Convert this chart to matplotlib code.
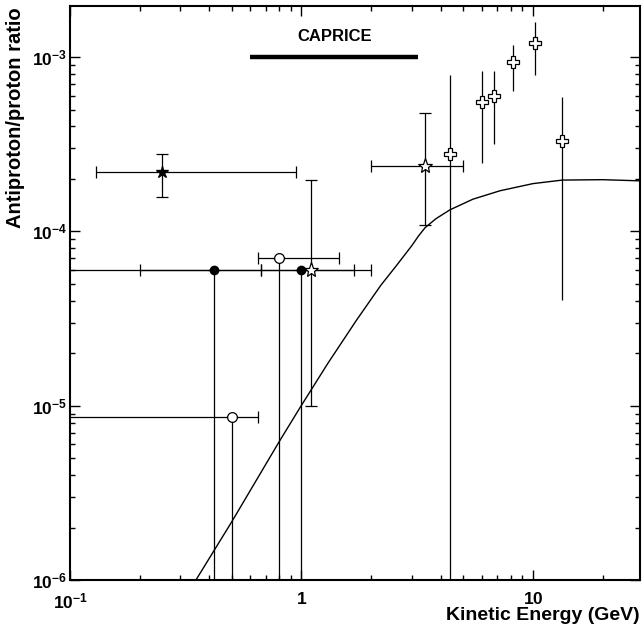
import numpy as np
import matplotlib
matplotlib.use("Agg")
import matplotlib.pyplot as plt
from matplotlib.ticker import LogLocator, FixedFormatter, FixedLocator, NullFormatter

# ----------------------------------------------------------------------
# data (kinetic energy in GeV, pbar/p ratio)
# ----------------------------------------------------------------------
# filled star
fstar_E = [0.25]
fstar_R = [2.2e-4]
fstar_Elo = [0.13]
fstar_Ehi = [0.95]
fstar_Rlo = [1.58e-4]
fstar_Rhi = [2.77e-4]

# filled circles (bars run down off the axis)
fcirc_E = [0.42, 1.0]
fcirc_R = [6.0e-5, 6.0e-5]
fcirc_Elo = [0.2, 0.67]
fcirc_Ehi = [0.67, 1.69]
fcirc_Rlo = [1e-7, 1e-7]
fcirc_Rhi = [6.0e-5, 6.0e-5]

# open circles
ocirc_E = [0.5, 0.8]
ocirc_R = [8.6e-6, 7.0e-5]
ocirc_Elo = [0.05, 0.647]
ocirc_Ehi = [0.647, 1.456]
ocirc_Rlo = [1e-7, 1e-7]
ocirc_Rhi = [8.6e-6, 7.0e-5]

# open stars
ostar_E = [1.1, 3.4]
ostar_R = [6.0e-5, 2.37e-4]
ostar_Elo = [0.05, 2.0]
ostar_Ehi = [2.0, 5.0]
ostar_Rlo = [1.0e-5, 1.09e-4]
ostar_Rhi = [1.97e-4, 4.77e-4]

# open crosses
cross_E = [4.4, 6.0, 6.8, 8.2, 10.2, 13.4]
cross_R = [2.77e-4, 5.55e-4, 6.0e-4, 9.33e-4, 1.21e-3, 3.31e-4]
cross_Rlo = [1e-7, 2.48e-4, 3.17e-4, 6.42e-4, 7.86e-4, 4.04e-5]
cross_Rhi = [7.86e-4, 8.36e-4, 8.36e-4, 1.17e-3, 1.58e-3, 5.88e-4]

# model curve
curve_E = [0.3, 0.35, 0.5, 0.8, 0.985, 1.3, 1.73, 2.2, 2.58, 3.0, 3.2,
           3.42, 3.8, 4.38, 5.5, 7.2, 10.0, 13.4, 20.0, 29.0]
curve_R = [7.1e-7, 1.0e-6, 2.16e-6, 6.2e-6, 9.74e-6, 1.75e-5, 3.1e-5,
           4.9e-5, 6.4e-5, 8.3e-5, 9.4e-5, 1.05e-4, 1.18e-4, 1.33e-4,
           1.53e-4, 1.71e-4, 1.88e-4, 1.97e-4, 1.98e-4, 1.95e-4]

# CAPRICE energy range
caprice_E = [0.6, 3.2]
caprice_R = [1.0e-3, 1.0e-3]

xticks = [0.1, 1, 10]
xticklabels = [r"$10^{-1}$", r"$1$", r"$10$"]
yticks = [1e-6, 1e-5, 1e-4, 1e-3]
yticklabels = [r"$10^{-6}$", r"$10^{-5}$", r"$10^{-4}$", r"$10^{-3}$"]

# ----------------------------------------------------------------------
# style
# ----------------------------------------------------------------------
plt.rcParams["font.family"] = ["Liberation Sans", "DejaVu Sans"]
plt.rcParams["font.weight"] = "bold"
plt.rcParams["mathtext.fontset"] = "custom"
plt.rcParams["mathtext.rm"] = "Liberation Sans:bold"
plt.rcParams["mathtext.it"] = "Liberation Sans:bold"
plt.rcParams["mathtext.bf"] = "Liberation Sans:bold"
plt.rcParams["mathtext.default"] = "rm"

fig = plt.figure(figsize=(6.42, 6.28), dpi=100)
ax = fig.add_axes([70 / 642, 48 / 628, 570 / 642, 574 / 628])
ax.set_xscale("log")
ax.set_yscale("log")
ax.set_xlim(0.1, 29.0)
ax.set_ylim(1e-6, 1.964e-3)


def asym(v, lo, hi):
    v = np.asarray(v)
    return [v - np.asarray(lo), np.asarray(hi) - v]


eb = dict(color="black", lw=0.9, capthick=0.9, ls="none")

# curve
ax.plot(curve_E, curve_R, color="black", lw=1.0)

# filled star
ax.errorbar(fstar_E, fstar_R, xerr=asym(fstar_E, fstar_Elo, fstar_Ehi),
            yerr=asym(fstar_R, fstar_Rlo, fstar_Rhi), capsize=4,
            marker="*", ms=9, mfc="black", mec="black", **eb)

# open stars
ax.errorbar(ostar_E, ostar_R, xerr=asym(ostar_E, ostar_Elo, ostar_Ehi),
            yerr=asym(ostar_R, ostar_Rlo, ostar_Rhi), capsize=4,
            marker="*", ms=11, mfc="white", mec="black", mew=0.9, **eb)

# filled circles
ax.errorbar(fcirc_E, fcirc_R, xerr=asym(fcirc_E, fcirc_Elo, fcirc_Ehi),
            yerr=asym(fcirc_R, fcirc_Rlo, fcirc_Rhi), capsize=4,
            marker="o", ms=6, mfc="black", mec="black", **eb)

# open circles
ax.errorbar(ocirc_E, ocirc_R, xerr=asym(ocirc_E, ocirc_Elo, ocirc_Ehi),
            yerr=asym(ocirc_R, ocirc_Rlo, ocirc_Rhi), capsize=4,
            marker="o", ms=7, mfc="white", mec="black", mew=0.9, **eb)

# open crosses
ax.errorbar(cross_E, cross_R, yerr=asym(cross_R, cross_Rlo, cross_Rhi),
            capsize=0, marker="P", ms=9, mfc="white", mec="black", mew=0.9,
            **eb)

# CAPRICE bar
ax.plot(caprice_E, caprice_R, color="black", lw=3.2, solid_capstyle="butt")
ax.text(np.sqrt(caprice_E[0] * caprice_E[1]), 1.19e-3, "CAPRICE",
        ha="center", va="bottom", fontsize=12, fontweight="bold")

# ticks
ax.xaxis.set_major_locator(FixedLocator(xticks))
ax.xaxis.set_major_formatter(FixedFormatter(xticklabels))
ax.yaxis.set_major_locator(FixedLocator(yticks))
ax.yaxis.set_major_formatter(FixedFormatter(yticklabels))
ax.xaxis.set_minor_locator(LogLocator(base=10, subs=np.arange(2, 10)))
ax.yaxis.set_minor_locator(LogLocator(base=10, subs=np.arange(2, 10)))
ax.xaxis.set_minor_formatter(NullFormatter())
ax.yaxis.set_minor_formatter(NullFormatter())
ax.tick_params(which="both", direction="in", top=True, right=True,
               width=1.0, labelsize=12.5)
ax.tick_params(which="major", length=7.5)
ax.tick_params(which="minor", length=3.8)
ax.tick_params(axis="x", which="major", pad=8)
ax.tick_params(axis="y", which="major", pad=2)
for s in ax.spines.values():
    s.set_linewidth(1.5)

# axis titles
fig.text(16 / 642, 1 - 7 / 628, "Antiproton/proton ratio", rotation=90,
         ha="center", va="top", fontsize=14.5, fontweight="bold")
fig.text(640 / 642, 8 / 628, "Kinetic Energy (GeV)", ha="right",
         va="baseline", fontsize=14, fontweight="bold")

fig.savefig("out.png", dpi=100)
